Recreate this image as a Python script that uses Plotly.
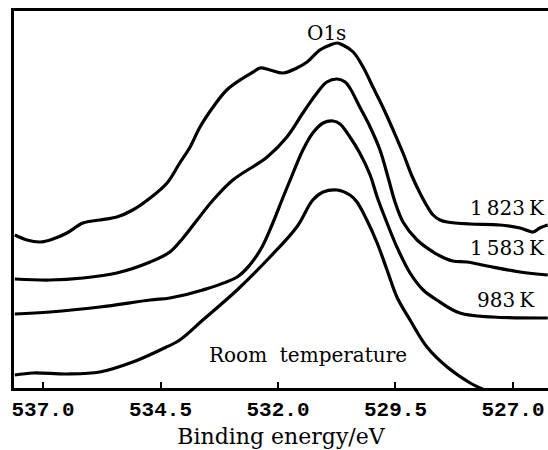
import plotly.graph_objects as go

# Binding energy (eV) and intensity (arbitrary units, offset stacked)
e_1823 = [537.60, 537.34, 537.06, 536.79, 536.49, 536.15, 535.79, 535.43, 535.09, 534.72,
          534.36, 534.09, 533.87, 533.66, 533.38, 533.09, 532.74, 532.53, 532.38, 532.17,
          531.89, 531.60, 531.38, 531.11, 530.89, 530.74, 530.62, 530.40, 530.19, 529.98,
          529.77, 529.55, 529.34, 529.15, 528.98, 528.83, 528.70, 528.55, 528.40, 527.91,
          527.28, 526.85, 526.57, 526.43, 526.26]
i_1823 = [153, 148, 146, 149, 155, 165, 168, 171, 178, 190,
          205, 225, 241, 261, 281, 298, 310, 316, 320, 318,
          315, 320, 326, 338, 343, 345, 343, 336, 321, 301,
          281, 258, 235, 212, 195, 182, 173, 168, 166, 164,
          163, 160, 156, 160, 163]

e_1583 = [537.60, 536.85, 536.15, 535.43, 534.72, 534.30, 534.02, 533.72, 533.38, 532.96,
          532.23, 531.81, 531.47, 531.17, 530.96, 530.74, 530.57, 530.47, 530.26, 530.04,
          529.83, 529.66, 529.51, 529.34, 529.04, 528.70, 528.55, 528.28, 527.98, 527.55,
          526.85, 526.26]
i_1583 = [109, 108, 110, 115, 126, 136, 150, 168, 188, 208,
          231, 251, 275, 295, 306, 309, 306, 300, 281, 261,
          238, 211, 186, 166, 148, 136, 132, 127, 126, 122,
          116, 113]

e_983 = [537.60, 536.85, 535.79, 534.72, 534.30, 533.60, 532.87, 532.60, 532.34, 532.11,
         531.89, 531.68, 531.47, 531.26, 531.04, 530.83, 530.68, 530.47, 530.26, 530.04,
         529.89, 529.68, 529.47, 529.19, 528.91, 528.62, 528.13, 527.43, 526.26]
i_983 = [74, 76, 81, 88, 90, 98, 111, 123, 141, 165,
         191, 215, 238, 255, 265, 267, 264, 251, 235, 213,
         191, 165, 141, 115, 98, 88, 75, 71, 70]

e_rt = [537.60, 537.21, 536.49, 535.79, 535.09, 534.51, 534.09, 533.60, 532.87, 532.17,
        531.60, 531.26, 531.04, 530.74, 530.47, 530.32, 530.11, 529.89, 529.68, 529.47,
        529.19, 528.83, 528.40, 527.91, 527.70, 527.49]
i_rt = [13, 15, 14, 16, 26, 38, 48, 68, 98, 131,
        161, 188, 196, 198, 193, 186, 168, 145, 118, 91,
        68, 41, 21, 5, 0, -4]

tick_vals = [537.0, 534.5, 532.0, 529.5, 527.0]
tick_text = ["537.0", "534.5", "532.0", "529.5", "527.0"]

series = [(e_1823, i_1823), (e_1583, i_1583), (e_983, i_983), (e_rt, i_rt)]

fig = go.Figure()
for ex, iy in series:
    fig.add_trace(go.Scatter(x=ex, y=iy, mode="lines",
                             line=dict(color="black", width=3.2, shape="spline", smoothing=1.0),
                             hoverinfo="skip", showlegend=False))

serif = "DejaVu Serif"
labels = [
    ("O1s", 530.96, 355, "center"),
    ("1\u2009823\u2009K", 526.28, 180, "right"),
    ("1\u2009583\u2009K", 526.28, 140, "right"),
    ("983\u2009K", 526.49, 88, "right"),
    ("Room  temperature", 531.36, 33, "center"),
]
for txt, x, y, anc in labels:
    fig.add_annotation(x=x, y=y, text=txt, showarrow=False, xanchor=anc, yanchor="middle",
                       font=dict(family=serif, size=20, color="black"))

fig.update_layout(
    width=548, height=450,
    margin=dict(l=14, r=0, t=11, b=62),
    paper_bgcolor="white", plot_bgcolor="white",
    xaxis=dict(range=[537.617, 526.255], showgrid=False, zeroline=False,
               showline=True, linecolor="black", linewidth=3, mirror=True,
               ticks="inside", ticklen=6, tickwidth=2, tickcolor="black",
               tickvals=tick_vals, ticktext=tick_text,
               tickfont=dict(family="Liberation Mono", size=21, color="black", weight="bold"),
               title=dict(text="Binding energy/eV", standoff=8,
                          font=dict(family=serif, size=22, color="black"))),
    yaxis=dict(range=[0, 377], showgrid=False, zeroline=False, showticklabels=False,
               showline=True, linecolor="black", linewidth=3, mirror=False, ticks=""),
)

fig.write_html("out.html", config={"displayModeBar": False},
               post_script="document.body.style.margin='0';document.body.style.overflow='hidden';")
